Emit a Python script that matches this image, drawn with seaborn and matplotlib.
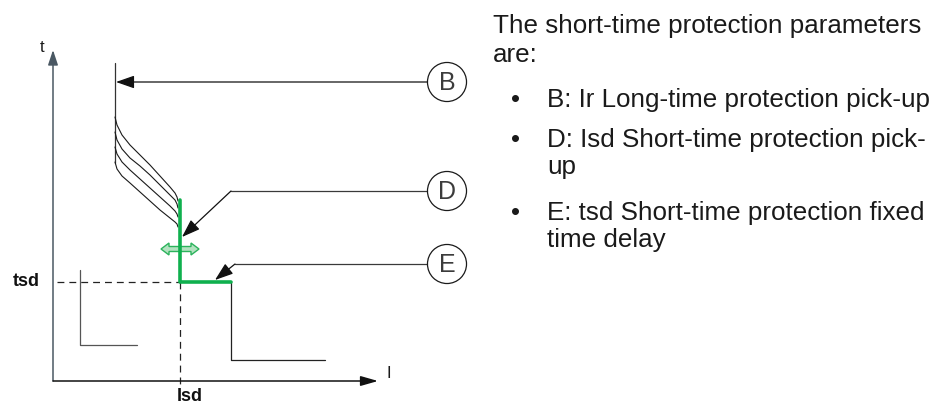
import matplotlib
matplotlib.use("Agg")
import matplotlib.pyplot as plt
from matplotlib.patches import FancyArrow
import seaborn as sns

# ---------------- data (diagram units, y grows downward as in the original) ----------------
t_axis_x = [53, 53]
t_axis_y = [381, 50]
i_axis_x = [53, 378]
i_axis_y = [381, 381]

ir_line_x = [115, 115]
ir_line_y = [63, 163]

curve_x = [115, 117, 122, 130, 140, 150, 160, 170, 175, 177, 178]
curve1_y = [117, 125, 135, 145, 155, 165, 176, 187, 193, 197, 201]
curve2_y = [132, 140, 149, 158, 166, 175, 185, 195, 200, 204, 208]
curve3_y = [147, 154, 162, 170, 179, 188, 197, 206, 211, 214, 217]
curve4_y = [162, 169, 176, 183, 192, 201, 210, 218, 222, 224, 227]

short_time_x = [180, 180, 231]
short_time_y = [200, 282, 282]
inst_x = [231, 231, 325]
inst_y = [282, 360, 360]
left_step_x = [80, 80, 137]
left_step_y = [270, 345, 345]

tsd_guide_x = [57, 180]
tsd_guide_y = [282, 282]
isd_guide_x = [180, 180]
isd_guide_y = [282, 387]

isd_shift_center = (180, 249)
isd_shift_ends_x = [161, 199]

callout_letters = ["B", "D", "E"]
callout_x = [447, 447, 447]
callout_y = [82, 191, 264]
leader_start_x = [427, 427, 427]
knee_x = [427, 231, 235]
knee_y = [82, 191, 264]
tip_x = [116, 182, 215]
tip_y = [82, 237, 280]

axis_labels = ["t", "I"]
axis_label_x = [42, 389]
axis_label_y = [48, 374]
marker_labels = ["tsd", "Isd"]
marker_label_x = [26, 190]
marker_label_y = [282, 401]

text_lines = [
    "The short-time protection parameters",
    "are:",
    "B: Ir Long-time protection pick-up",
    "D: Isd Short-time protection pick-",
    "up",
    "E: tsd Short-time protection fixed",
    "time delay",
]
text_baselines = [33, 62, 107, 147, 174, 220, 247]
text_is_bullet = [False, False, True, True, False, True, False]
text_is_item = [False, False, True, True, True, True, True]

# ---------------- figure ----------------
sns.set_theme(style="white")
plt.rcParams["font.family"] = ["Liberation Sans", "DejaVu Sans"]

fig = plt.figure(figsize=(9.36, 4.05), dpi=100)
ax = fig.add_axes([0, 0, 1, 1])
ax.set_xlim(0, 936)
ax.set_ylim(405, 0)
ax.axis("off")

def line(xs, ys, **kw):
    sns.lineplot(x=xs, y=ys, sort=False, estimator=None, ax=ax, legend=False, **kw)

# axes with arrow heads
ax.annotate("", xy=(t_axis_x[1], t_axis_y[1]), xytext=(t_axis_x[0], t_axis_y[0]),
            arrowprops=dict(arrowstyle="-|>,head_length=0.6,head_width=0.2", mutation_scale=15,
                            color="#4a5863", lw=1.1, shrinkA=0, shrinkB=0))
ax.annotate("", xy=(i_axis_x[1], i_axis_y[1]), xytext=(i_axis_x[0], i_axis_y[0]),
            arrowprops=dict(arrowstyle="-|>,head_length=0.7,head_width=0.2", mutation_scale=15,
                            color="#111111", lw=1.1, shrinkA=0, shrinkB=0))

# long-time curves
line(ir_line_x, ir_line_y, color="#333333", lw=0.9)
for cy in (curve1_y, curve2_y, curve3_y, curve4_y):
    line(curve_x, cy, color="#1a1a1a", lw=0.8)

# steps
line(inst_x, inst_y, color="#222222", lw=0.9)
line(left_step_x, left_step_y, color="#555555", lw=0.9)

# dashed guides
line(tsd_guide_x, tsd_guide_y, color="#222222", lw=0.9, linestyle=(0, (5.5, 4)))
line(isd_guide_x, isd_guide_y, color="#222222", lw=0.9, linestyle=(0, (5.5, 4)))

# double arrow (Isd adjustable): two block arrows from the centre outwards
cx0, cy0 = isd_shift_center
for ex in isd_shift_ends_x:
    ax.add_patch(FancyArrow(cx0, cy0, ex - cx0, 0, width=5, head_width=12, head_length=8,
                            length_includes_head=True, facecolor="#b3e2c0", edgecolor="#2cb35c",
                            lw=1.0, zorder=3))

# short-time green setting
sns.lineplot(x=short_time_x, y=short_time_y, sort=False, estimator=None, ax=ax, legend=False,
             color="#0fb04e", lw=2.6, zorder=4)

# call-out circles, leaders and arrows
sns.scatterplot(x=callout_x, y=callout_y, ax=ax, s=790, marker="o", facecolors="none",
                edgecolor="#1a1a1a", linewidth=0.9, legend=False, zorder=5)
ax.collections[-1].set_facecolor("none")
for letter, cx, cy, sx, kx, ky, tx, ty in zip(callout_letters, callout_x, callout_y, leader_start_x,
                                              knee_x, knee_y, tip_x, tip_y):
    ax.text(cx, cy + 1, letter, ha="center", va="center", fontsize=18, color="#3c3c3c")
    line([sx, kx], [ky, ky], color="#3a3a3a", lw=0.9)
    ax.annotate("", xy=(tx, ty), xytext=(kx, ky),
                arrowprops=dict(arrowstyle="-|>,head_length=0.8,head_width=0.28", mutation_scale=14,
                                color="#111111", lw=0.9, shrinkA=0, shrinkB=0), zorder=6)

# axis labels
for lab, x, y in zip(axis_labels, axis_label_x, axis_label_y):
    ax.text(x, y, lab, ha="center", va="center", fontsize=12, color="#1a1a1a")
ax.text(marker_label_x[0], marker_label_y[0], marker_labels[0], ha="center", va="center",
        fontsize=13, fontweight="bold", color="#111111")
ax.text(marker_label_x[1], marker_label_y[1], marker_labels[1], ha="center", va="baseline",
        fontsize=13, fontweight="bold", color="#111111")

# description text
for txt, yb, bullet, item in zip(text_lines, text_baselines, text_is_bullet, text_is_item):
    x0 = 547 if item else 493
    ax.text(x0, yb, txt, ha="left", va="baseline", fontsize=18.7, color="#1a1a1a")
    if bullet:
        ax.text(515, yb, "\u2022", ha="center", va="baseline", fontsize=18.7, color="#1a1a1a")

fig.savefig("out.png", dpi=100)
